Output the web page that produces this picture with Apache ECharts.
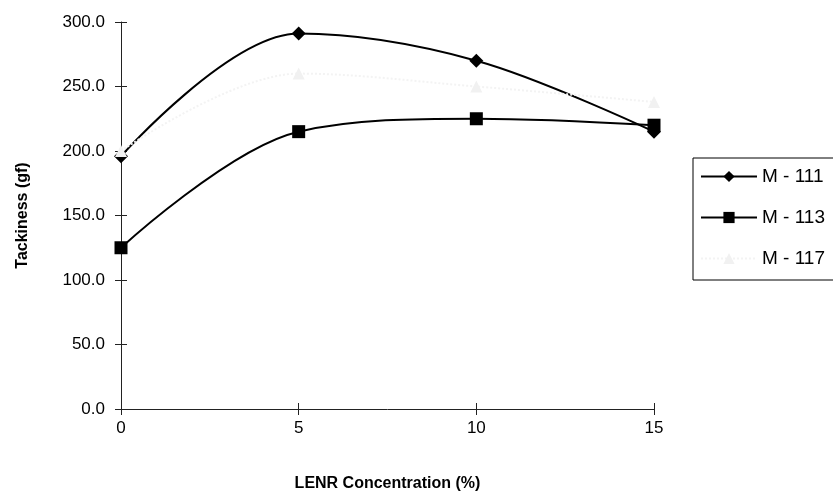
<!DOCTYPE html>
<html>
<head>
<meta charset="utf-8">
<script src="https://cdn.jsdelivr.net/npm/echarts@6/dist/echarts.min.js"></script>
<style>
  html, body { margin: 0; padding: 0; background: #fff; }
  #chart { width: 833px; height: 500px; }
</style>
</head>
<body>
<div id="chart"></div>
<script>
const concentrations = [0, 5, 10, 15]
const seriesNames = ['M - 111', 'M - 113', 'M - 117']
const m111 = [196, 291, 270, 215]
const m113 = [125, 215, 225, 220]
const m117 = [200, 260, 250, 238]

const chart = echarts.init(document.getElementById('chart'))
const font = '"Liberation Sans", Arial, sans-serif'

function pairs(values) {
  return concentrations.map((x, i) => [x, values[i]])
}

// second copy of each axis only draws the inner half of the crossing ticks
const xBase = { type: 'value', min: 0, max: 15, interval: 5, splitLine: { show: false } }
const yBase = { type: 'value', min: 0, max: 300, interval: 50, splitLine: { show: false } }

chart.setOption({
  backgroundColor: '#fff',
  animation: false,
  textStyle: { fontFamily: font, color: '#000' },
  grid: { left: 121, right: 179, top: 22, bottom: 91 },
  legend: {
    left: 693,
    top: 158,
    orient: 'vertical',
    padding: [9, 30, 12, 7],
    itemGap: 22,
    itemWidth: 56,
    itemHeight: 14,
    borderColor: '#000',
    borderWidth: 1,
    textStyle: { fontSize: 19, color: '#000', fontFamily: font },
    data: seriesNames
  },
  xAxis: [
    {
      ...xBase,
      name: 'LENR Concentration (%)',
      nameLocation: 'middle',
      nameGap: 67,
      nameTextStyle: { fontSize: 16, fontWeight: 'bold', color: '#000' },
      axisLine: { lineStyle: { color: '#222', width: 1 } },
      axisTick: { length: 6, lineStyle: { color: '#222' } },
      axisLabel: { fontSize: 17, color: '#000', margin: 11 }
    },
    {
      ...xBase,
      position: 'bottom',
      axisLine: { show: false },
      axisTick: { inside: true, length: 6, lineStyle: { color: '#222' } },
      axisLabel: { show: false }
    }
  ],
  yAxis: [
    {
      ...yBase,
      name: 'Tackiness (gf)',
      nameLocation: 'middle',
      nameGap: 90,
      nameTextStyle: { fontSize: 16, fontWeight: 'bold', color: '#000' },
      axisLine: { show: true, lineStyle: { color: '#222', width: 1 } },
      axisTick: { show: true, length: 6, lineStyle: { color: '#222' } },
      axisLabel: { fontSize: 17, color: '#000', margin: 16, formatter: v => v.toFixed(1) }
    },
    {
      ...yBase,
      position: 'left',
      axisLine: { show: false },
      axisTick: { show: true, inside: true, length: 6, lineStyle: { color: '#222' } },
      axisLabel: { show: false }
    }
  ],
  series: [
    {
      name: seriesNames[0],
      type: 'line',
      data: pairs(m111),
      smooth: 0.35,
      symbol: 'diamond',
      symbolSize: 14,
      lineStyle: { color: '#000', width: 2 },
      itemStyle: { color: '#000' }
    },
    {
      name: seriesNames[1],
      type: 'line',
      data: pairs(m113),
      smooth: 0.35,
      symbol: 'rect',
      symbolSize: 13,
      lineStyle: { color: '#000', width: 2 },
      itemStyle: { color: '#000' }
    },
    {
      name: seriesNames[2],
      type: 'line',
      data: pairs(m117),
      smooth: 0.35,
      symbol: 'triangle',
      symbolSize: 12,
      lineStyle: { color: '#f3f3f3', width: 2, type: 'dotted' },
      itemStyle: { color: '#f1f1f1' }
    }
  ]
})
</script>
</body>
</html>
